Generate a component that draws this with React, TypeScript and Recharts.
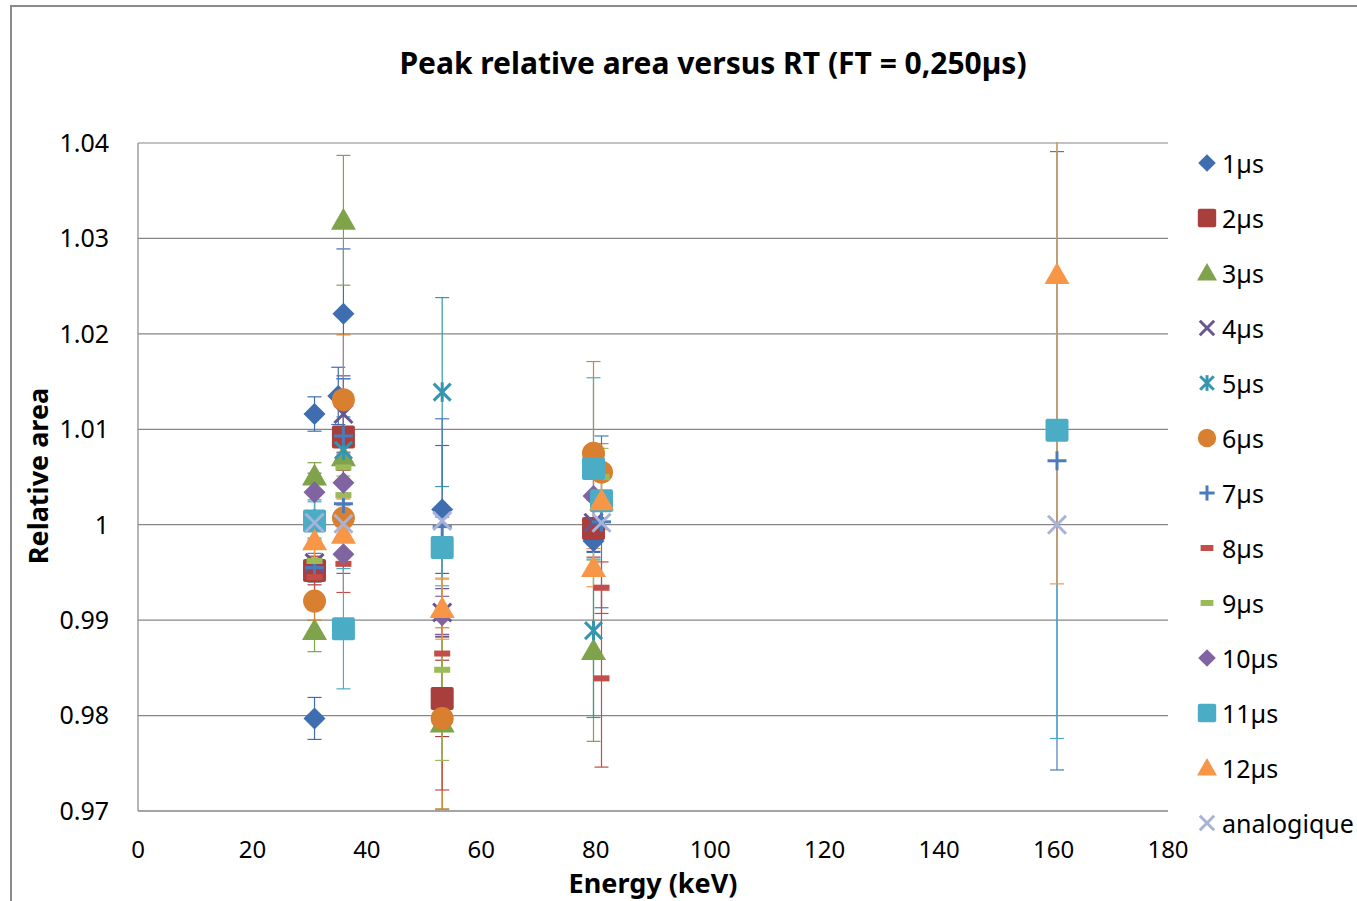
import React from "react";
import {
  ScatterChart,
  Scatter,
  XAxis,
  YAxis,
  CartesianGrid,
  ErrorBar,
} from "recharts";

// Peak relative area vs energy, one list per rise time. Each point: x = energy (keV), y = relative area, e = error
const RT_1 = [
  { x: 30.85, y: 1.0116, e: 0.0018 },
  { x: 30.85, y: 0.9797, e: 0.0022 },
  { x: 35.9, y: 1.0221, e: 0.0068 },
  { x: 35.0, y: 1.0135, e: 0.003 },
  { x: 53.16, y: 1.0016, e: 0.0067 },
  { x: 79.6, y: 0.9983, e: 0.0012 },
];
const RT_2 = [
  { x: 30.85, y: 0.9952, e: 0.0015 },
  { x: 35.9, y: 1.0092, e: 0.0035 },
  { x: 53.16, y: 0.9818, e: 0.004 },
  { x: 79.6, y: 0.9996, e: 0.003 },
];
const RT_3 = [
  { x: 30.85, y: 1.0051, e: 0.0014 },
  { x: 30.85, y: 0.9889, e: 0.0022 },
  { x: 35.9, y: 1.0319, e: 0.0068 },
  { x: 35.9, y: 1.0071, e: 0.003 },
  { x: 53.16, y: 0.9792, e: 0.009 },
  { x: 79.6, y: 0.9868, e: 0.0095 },
];
const RT_4 = [
  { x: 30.85, y: 0.996, e: 0.0015 },
  { x: 35.9, y: 1.0116, e: 0.004 },
  { x: 53.16, y: 0.9908, e: 0.0025 },
  { x: 79.6, y: 1.0002, e: 0.003 },
];
const RT_5 = [
  { x: 30.85, y: 1.0006, e: 0.002 },
  { x: 35.9, y: 1.0078, e: 0.0035 },
  { x: 53.16, y: 1.0139, e: 0.0099 },
  { x: 79.6, y: 0.9889, e: 0.0091 },
];
const RT_6 = [
  { x: 30.85, y: 0.992, e: 0.002 },
  { x: 35.9, y: 1.0131, e: 0.0068 },
  { x: 35.9, y: 1.0007, e: 0.002 },
  { x: 53.16, y: 0.9797, e: 0.0095 },
  { x: 79.6, y: 1.0075, e: 0.0096 },
  { x: 81.0, y: 1.0055, e: 0.003 },
];
const RT_7 = [
  { x: 30.85, y: 0.9955, e: 0.0015 },
  { x: 35.9, y: 1.0093, e: 0.006 },
  { x: 35.9, y: 1.0022, e: 0.002 },
  { x: 53.16, y: 0.9998, e: 0.0113 },
  { x: 81.0, y: 1.0003, e: 0.009 },
  { x: 160.6, y: 1.0067, e: 0.0324 },
];
const RT_8 = [
  { x: 30.85, y: 0.9945, e: 0.002 },
  { x: 35.9, y: 0.9959, e: 0.003 },
  { x: 53.16, y: 0.9865, e: 0.0143 },
  { x: 81.0, y: 0.9934, e: 0.0027 },
  { x: 81.0, y: 0.9839, e: 0.0093 },
];
const RT_9 = [
  { x: 30.85, y: 0.9962, e: 0.002 },
  { x: 35.9, y: 1.006, e: 0.003 },
  { x: 35.9, y: 1.0031, e: 0.002 },
  { x: 53.16, y: 0.9848, e: 0.0095 },
  { x: 81.0, y: 1.005, e: 0.003 },
];
const RT_10 = [
  { x: 30.85, y: 1.0034, e: 0.002 },
  { x: 35.9, y: 1.0044, e: 0.003 },
  { x: 35.9, y: 0.9969, e: 0.002 },
  { x: 53.16, y: 0.9905, e: 0.002 },
  { x: 79.6, y: 1.003, e: 0.003 },
];
const RT_11 = [
  { x: 30.85, y: 1.0004, e: 0.002 },
  { x: 35.9, y: 0.9891, e: 0.0063 },
  { x: 53.16, y: 0.9976, e: 0.004 },
  { x: 79.6, y: 1.0059, e: 0.0095 },
  { x: 81.0, y: 1.0025, e: 0.003 },
  { x: 160.6, y: 1.0099, e: 0.0323 },
];
const RT_12 = [
  { x: 30.85, y: 0.9983, e: 0.002 },
  { x: 35.9, y: 0.999, e: 0.003 },
  { x: 53.16, y: 0.9912, e: 0.0032 },
  { x: 79.6, y: 0.9955, e: 0.002 },
  { x: 81.0, y: 1.0025, e: 0.003 },
  { x: 160.6, y: 1.0262, e: 0.0324 },
];
const ANALOG = [
  { x: 30.85, y: 1.0002, e: 0 },
  { x: 35.9, y: 1.0001, e: 0 },
  { x: 53.16, y: 1.0004, e: 0 },
  { x: 81.0, y: 1.0002, e: 0 },
  { x: 160.6, y: 1.0, e: 0 },
];

const X_TICKS = [0, 20, 40, 60, 80, 100, 120, 140, 160, 180];
const Y_TICKS = [0.97, 0.98, 0.99, 1.0, 1.01, 1.02, 1.03, 1.04];

type Kind = "diamond" | "square" | "triangle" | "x" | "asterisk" | "circle" | "plus" | "dash";

const SERIES: { name: string; data: typeof RT_1; kind: Kind; color: string }[] = [
  { name: "1µs", data: RT_1, kind: "diamond", color: "#3F6EB0" },
  { name: "2µs", data: RT_2, kind: "square", color: "#A93F3C" },
  { name: "3µs", data: RT_3, kind: "triangle", color: "#7FA34A" },
  { name: "4µs", data: RT_4, kind: "x", color: "#675690" },
  { name: "5µs", data: RT_5, kind: "asterisk", color: "#3596AF" },
  { name: "6µs", data: RT_6, kind: "circle", color: "#D8802F" },
  { name: "7µs", data: RT_7, kind: "plus", color: "#4A7CBC" },
  { name: "8µs", data: RT_8, kind: "dash", color: "#C44C49" },
  { name: "9µs", data: RT_9, kind: "dash", color: "#9BBB59" },
  { name: "10µs", data: RT_10, kind: "diamond", color: "#8064A2" },
  { name: "11µs", data: RT_11, kind: "square", color: "#4BACC6" },
  { name: "12µs", data: RT_12, kind: "triangle", color: "#F79646" },
  { name: "analogique", data: ANALOG, kind: "x", color: "#A9B2D9" },
];

const FONT = "'Noto Sans', 'Open Sans', sans-serif";

function Marker({ kind, cx, cy, color, s = 1 }: { kind: Kind; cx: number; cy: number; color: string; s?: number }) {
  switch (kind) {
    case "diamond": {
      const r = 11 * s;
      return <polygon points={`${cx},${cy - r} ${cx + r},${cy} ${cx},${cy + r} ${cx - r},${cy}`} fill={color} />;
    }
    case "square": {
      const r = 11.5 * s;
      return <rect x={cx - r} y={cy - r} width={2 * r} height={2 * r} rx={2} fill={color} />;
    }
    case "triangle": {
      const r = 12.5 * s;
      return <polygon points={`${cx},${cy - r} ${cx + r},${cy + r * 0.75} ${cx - r},${cy + r * 0.75}`} fill={color} />;
    }
    case "circle":
      return <circle cx={cx} cy={cy} r={11.5 * s} fill={color} />;
    case "x": {
      const r = 9 * s;
      return (
        <g stroke={color} strokeWidth={3}>
          <line x1={cx - r} y1={cy - r} x2={cx + r} y2={cy + r} />
          <line x1={cx - r} y1={cy + r} x2={cx + r} y2={cy - r} />
        </g>
      );
    }
    case "asterisk": {
      const r = 8.5 * s;
      return (
        <g stroke={color} strokeWidth={3}>
          <line x1={cx - r} y1={cy - r} x2={cx + r} y2={cy + r} />
          <line x1={cx - r} y1={cy + r} x2={cx + r} y2={cy - r} />
          <line x1={cx} y1={cy - r * 1.15} x2={cx} y2={cy + r * 1.15} />
        </g>
      );
    }
    case "plus": {
      const r = 9.5 * s;
      return (
        <g stroke={color} strokeWidth={3}>
          <line x1={cx - r} y1={cy} x2={cx + r} y2={cy} />
          <line x1={cx} y1={cy - r} x2={cx} y2={cy + r} />
        </g>
      );
    }
    case "dash":
      return <rect x={cx - 8 * s} y={cy - 3} width={16 * s} height={6} fill={color} />;
  }
  return null;
}

export default function App() {
  return (
    <div style={{ position: "relative", width: 1357, height: 901, overflow: "hidden", background: "#fff", fontFamily: FONT }}>
      <style>{`html,body{margin:0;padding:0;overflow:hidden;}`}</style>
      <div style={{ position: "absolute", left: 0, top: 0 }}>
        <ScatterChart width={1200} height={901} margin={{ top: 143, right: 32, bottom: 60, left: 78 }}>
          <CartesianGrid vertical={false} stroke="#868686" strokeWidth={1.2} />
          <XAxis
            type="number"
            dataKey="x"
            domain={[0, 180]}
            ticks={X_TICKS}
            allowDataOverflow
            height={30}
            tickLine={false}
            tickSize={0}
            tickMargin={30}
            axisLine={{ stroke: "#868686", strokeWidth: 1.2 }}
            tick={{ fill: "#000", fontSize: 24, fontFamily: FONT }}
          />
          <YAxis
            type="number"
            dataKey="y"
            domain={[0.97, 1.04]}
            ticks={Y_TICKS}
            allowDataOverflow
            width={60}
            tickLine={false}
            tickSize={0}
            tickMargin={29}
            axisLine={{ stroke: "#868686", strokeWidth: 1.2 }}
            tick={{ fill: "#000", fontSize: 25, fontFamily: FONT }}
            tickFormatter={(v: number) => String(+v.toFixed(2))}
          />
          {SERIES.map((s) => (
            <Scatter
              key={s.name}
              name={s.name}
              data={s.data}
              fill={s.color}
              isAnimationActive={false}
              shape={(p: any) => <Marker kind={s.kind} cx={p.cx} cy={p.cy} color={s.color} />}
            >
              <ErrorBar dataKey="e" direction="y" width={7} stroke={s.color} strokeWidth={1.2} />
            </Scatter>
          ))}
        </ScatterChart>
      </div>
      {/* hide error bars that run above the plot area */}
      <div style={{ position: "absolute", left: 140, top: 0, width: 1040, height: 142, background: "#fff" }} />
      <div style={{ position: "absolute", left: 10, top: 5, width: 1400, height: 960, border: "2px solid #8a8a8a", boxSizing: "border-box" }} />

      <div style={{ position: "absolute", left: 713, top: 63, transform: "translate(-50%,-50%)", fontSize: 30, lineHeight: 1, fontWeight: 700, whiteSpace: "nowrap", color: "#000" }}>
        Peak relative area versus RT (FT = 0,250µs)
      </div>
      <div style={{ position: "absolute", left: 37, top: 476, transform: "translate(-50%,-50%) rotate(-90deg)", fontSize: 27, lineHeight: 1, fontWeight: 700, whiteSpace: "nowrap", color: "#000" }}>
        Relative area
      </div>
      <div style={{ position: "absolute", left: 653, top: 882, transform: "translate(-50%,-50%)", fontSize: 27, lineHeight: 1, fontWeight: 700, whiteSpace: "nowrap", color: "#000" }}>
        Energy (keV)
      </div>

      {SERIES.map((s, i) => (
        <div key={s.name} style={{ position: "absolute", left: 1194, top: 163 + i * 55, transform: "translateY(-50%)", display: "flex", alignItems: "center", fontSize: 25, color: "#000", whiteSpace: "nowrap" }}>
          <svg width={26} height={26} style={{ marginRight: 2 }}>
            <Marker kind={s.kind} cx={13} cy={13} color={s.color} s={0.8} />
          </svg>
          <span>{s.name}</span>
        </div>
      ))}
    </div>
  );
}
